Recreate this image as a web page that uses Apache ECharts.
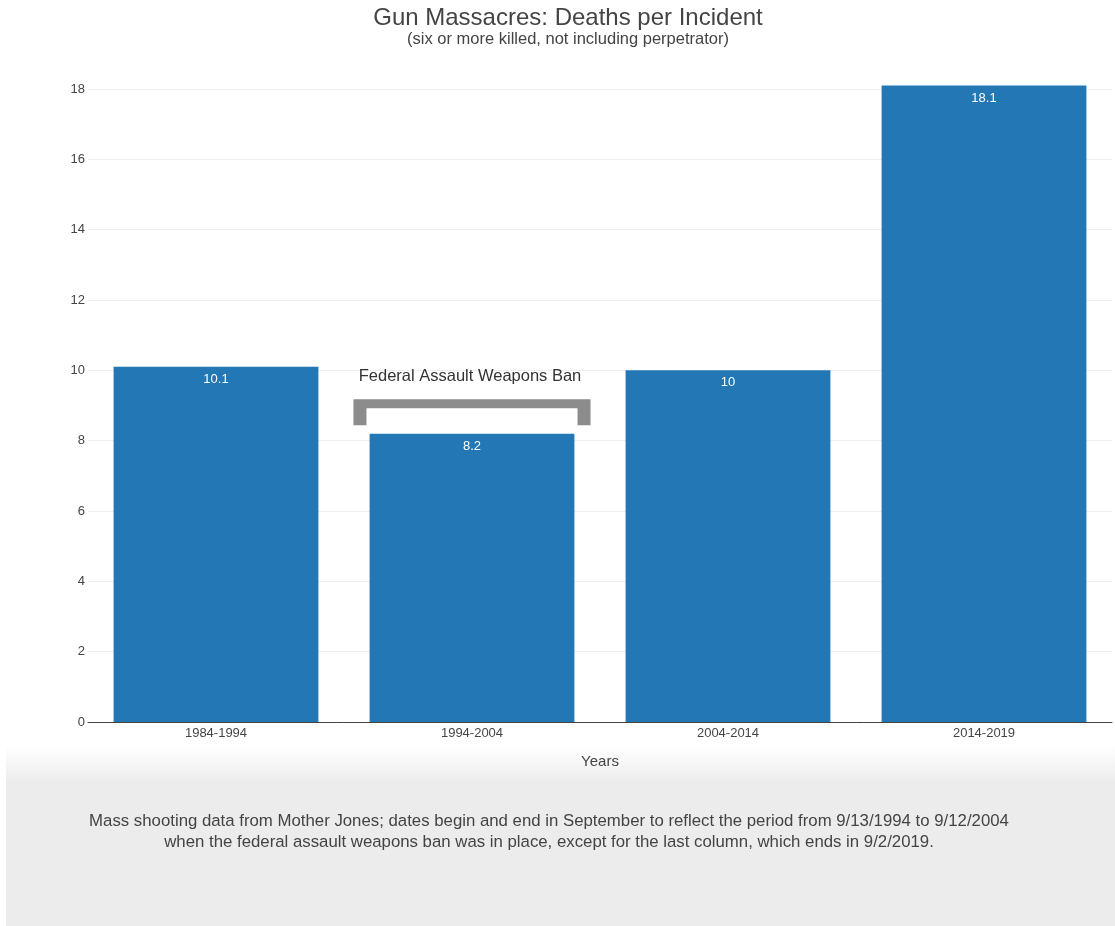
<!DOCTYPE html>
<html>
<head>
<meta charset="utf-8">
<script src="https://cdn.jsdelivr.net/npm/echarts@6/dist/echarts.min.js"></script>
<style>
html,body{margin:0;padding:0;background:#fff;}
#c{width:1115px;height:926px;}
</style>
</head>
<body>
<div id="c"></div>
<script>
const categories = ['1984-1994', '1994-2004', '2004-2014', '2014-2019'];
const deathsPerIncident = [10.1, 8.2, 10, 18.1];
const yTicks = { min: 0, max: 18, interval: 2 };
const titleText = 'Gun Massacres: Deaths per Incident';
const subtitleText = '(six or more killed, not including perpetrator)';
const xAxisName = 'Years';
const footnoteLines = [
  'Mass shooting data from Mother Jones; dates begin and end in September to reflect the period from 9/13/1994 to 9/12/2004',
  'when the federal assault weapons ban was in place, except for the last column, which ends in 9/2/2019.'
];
const annotationText = 'Federal Assault Weapons Ban';
const annotationCategory = '1994-2004';
const bracketTopValue = 9.18;
const bracketBarBottomValue = 8.92;
const bracketLegBottomValue = 8.44;

const FONT = '"Liberation Sans", Arial, Helvetica, sans-serif';
const chart = echarts.init(document.getElementById('c'), null, { renderer: 'canvas' });

const option = {
  backgroundColor: '#fff',
  animation: false,
  title: {
    text: titleText,
    subtext: subtitleText,
    left: 563,
    textAlign: 'center',
    top: 1,
    itemGap: 1,
    textStyle: { fontFamily: FONT, fontSize: 24, fontWeight: 'normal', color: '#444' },
    subtextStyle: { fontFamily: FONT, fontSize: 16.5, color: '#444' }
  },
  grid: { left: 88, right: 3, top: 89, bottom: 204, containLabel: false },
  xAxis: {
    type: 'category',
    data: categories,
    name: xAxisName,
    nameLocation: 'middle',
    nameGap: 32,
    nameTextStyle: { fontFamily: FONT, fontSize: 15, color: '#444' },
    axisLine: { lineStyle: { color: '#444', width: 1 } },
    axisTick: { show: false },
    axisLabel: { fontFamily: FONT, fontSize: 13, color: '#444', margin: 5 }
  },
  yAxis: {
    type: 'value',
    min: yTicks.min,
    max: yTicks.max,
    interval: yTicks.interval,
    axisLine: { show: false },
    axisTick: { show: false },
    axisLabel: { fontFamily: FONT, fontSize: 13, color: '#444', margin: 3 },
    splitLine: { lineStyle: { color: '#eeeeee', width: 1 } }
  },
  series: [{
    type: 'bar',
    data: deathsPerIncident,
    barCategoryGap: '20%',
    clip: false,
    itemStyle: { color: '#2277b4' },
    label: {
      show: true,
      position: 'insideTop',
      distance: 6,
      color: '#fff',
      fontFamily: FONT,
      fontSize: 13
    }
  }]
};
chart.setOption(option);

// Annotation bracket and footnote panel, positioned from the axes
const ci = categories.indexOf(annotationCategory);
const p0 = chart.convertToPixel({ gridIndex: 0 }, [0, 0]);
const p1 = chart.convertToPixel({ gridIndex: 0 }, [1, 0]);
const band = p1[0] - p0[0];
const cx = chart.convertToPixel({ gridIndex: 0 }, [ci, 0])[0];
const yTop = chart.convertToPixel({ gridIndex: 0 }, [ci, bracketTopValue])[1];
const yBar = chart.convertToPixel({ gridIndex: 0 }, [ci, bracketBarBottomValue])[1];
const yLeg = chart.convertToPixel({ gridIndex: 0 }, [ci, bracketLegBottomValue])[1];
const half = band * 0.463;
const leg = 13;
const xl = cx - half, xr = cx + half;

const W = chart.getWidth(), H = chart.getHeight();
chart.setOption({
  graphic: [
    {
      type: 'rect', z: -10, silent: true,
      shape: { x: 6, y: 745, width: W - 6, height: H - 745 },
      style: {
        fill: new echarts.graphic.LinearGradient(0, 0, 0, 1, [
          { offset: 0, color: '#ffffff' },
          { offset: 0.21, color: '#ececec' },
          { offset: 1, color: '#ececec' }
        ])
      }
    },
    {
      type: 'polygon', z: 10, silent: true,
      shape: { points: [[xl, yLeg], [xl, yTop], [xr, yTop], [xr, yLeg], [xr - leg, yLeg], [xr - leg, yBar], [xl + leg, yBar], [xl + leg, yLeg]] },
      style: { fill: '#8c8c8c' }
    },
    {
      type: 'text', z: 10, silent: true,
      x: cx - 2, y: yTop - 23,
      style: { text: annotationText, fontFamily: FONT, fontSize: 16.5, fill: '#333', align: 'center', verticalAlign: 'middle' }
    },
    {
      type: 'text', z: 10, silent: true,
      x: 549, y: 832,
      style: { text: footnoteLines.join('\n'), fontFamily: FONT, fontSize: 16.8, lineHeight: 21, fill: '#444', align: 'center', verticalAlign: 'middle' }
    }
  ]
});
</script>
</body>
</html>
